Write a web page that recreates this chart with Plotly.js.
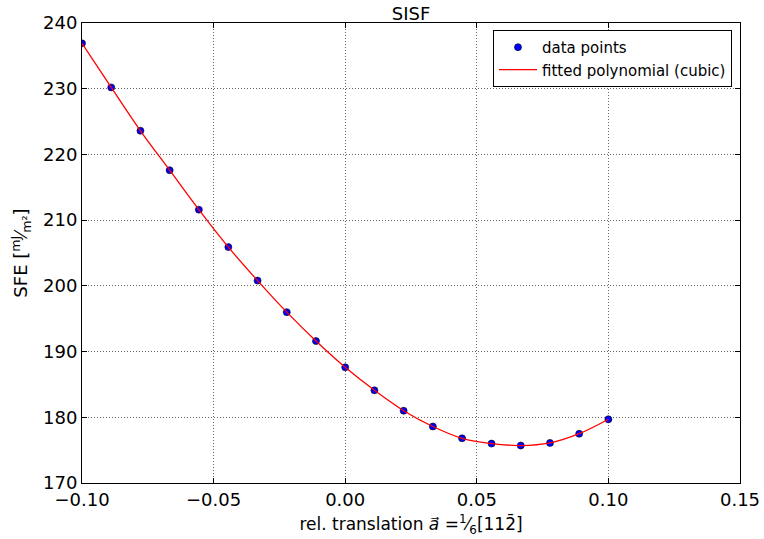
<!DOCTYPE html>
<html>
<head>
<meta charset="utf-8">
<script src="https://cdn.plot.ly/plotly-3.0.1.min.js"></script>
<style>html,body{margin:0;padding:0;background:#fff;}#chart{width:764px;height:539px;}</style>
</head>
<body>
<div id="chart"></div>
<script>
// relative translation values (x) and stacking fault energies (mJ/m^2)
const translation = [-0.1, -0.0889, -0.0778, -0.0667, -0.0556, -0.0444, -0.0333, -0.0222, -0.0111, 0.0, 0.0111, 0.0222, 0.0333, 0.0444, 0.0556, 0.0667, 0.0778, 0.0889, 0.1];
const sfe = [236.9, 230.2, 223.6, 217.6, 211.6, 205.9, 200.8, 196.0, 191.6, 187.6, 184.1, 181.0, 178.6, 176.8, 176.0, 175.7, 176.1, 177.5, 179.7];
const xTicks = [-0.10, -0.05, 0.00, 0.05, 0.10, 0.15];
const yTicks = [170, 180, 190, 200, 210, 220, 230, 240];

const font = "DejaVu Sans, sans-serif";

const traces = [
  {
    x: translation, y: sfe, type: "scatter", mode: "markers", name: "data points",
    marker: {color: "#0000ff", size: 7, line: {color: "#000", width: 0.6}}
  },
  {
    x: translation, y: sfe, type: "scatter", mode: "lines", name: "fitted polynomial (cubic)",
    line: {color: "#ff0000", width: 1.3, shape: "spline", smoothing: 1}
  }
];

const axisCommon = {
  showline: true, linecolor: "#000", linewidth: 1, mirror: "allticks",
  ticks: "inside", ticklen: 5, tickcolor: "#000", tickwidth: 1,
  showgrid: true, gridcolor: "rgba(0,0,0,0.6)", griddash: "1px,2px", gridwidth: 1,
  zeroline: false, tickfont: {family: font, size: 18, color: "#000"}
};

const layout = {
  width: 764, height: 539,
  margin: {l: 82, r: 24, t: 23, b: 56, pad: 0},
  paper_bgcolor: "#fff", plot_bgcolor: "#fff",
  font: {family: font, color: "#000"},
  title: {text: "SISF", font: {family: font, size: 18, color: "#000"}, x: 0.538, xanchor: "center", y: 0.987, yanchor: "top"},
  xaxis: Object.assign({}, axisCommon, {
    range: [-0.1, 0.15], tickvals: xTicks, tickformat: ".2f",
    title: {text: 'rel. translation <i>a</i>\u20D7 =<sup>1</sup>\u2044<sub>6</sub>[112\u0304]', font: {family: font, size: 17, color: "#000"}, standoff: 9}
  }),
  yaxis: Object.assign({}, axisCommon, {
    range: [170, 240], tickvals: yTicks,
    title: {text: 'SFE [<sup>mJ</sup>\u2044<sub>m\u00B2</sub>]', font: {family: font, size: 18, color: "#000"}, standoff: 10}
  }),
  legend: {
    x: 0.6246, y: 0.985, xanchor: "left", yanchor: "top",
    bgcolor: "#fff", bordercolor: "#000", borderwidth: 1, itemwidth: 38,
    font: {family: font, size: 15, color: "#000"}, tracegroupgap: 0
  },
  showlegend: true
};

Plotly.newPlot("chart", traces, layout, {displayModeBar: false, staticPlot: true});
</script>
</body>
</html>
